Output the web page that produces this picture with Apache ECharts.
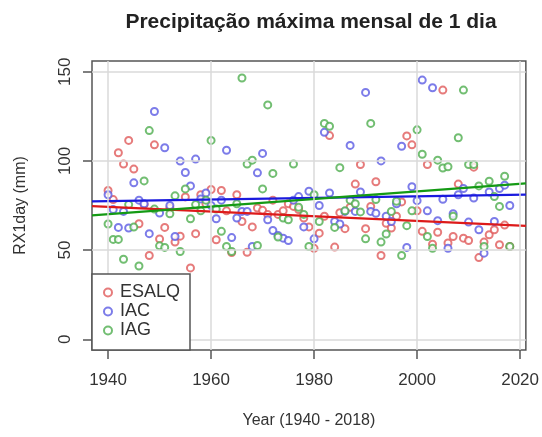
<!DOCTYPE html>
<html>
<head>
<meta charset="utf-8">
<script src="https://cdn.jsdelivr.net/npm/echarts@6/dist/echarts.min.js"></script>
<style>
  html, body { margin: 0; padding: 0; background: #fff; }
  #chart { width: 542px; height: 437px; }
</style>
</head>
<body>
<div id="chart"></div>
<script>
// valores, um por ano (1940 - 2018)
const firstYear = 1940
const esalq = [
  83.4, 78.3, 104.6, 98.2, 111.5, 95.4, 64.8, 75.5, 47, 109,
  56.2, 62.7, 73.6, 54.5, 57.8, 79.8, 40, 59.2, 81, 76,
  84, 55.8, 83.4, 72, 48.6, 81, 66, 48.8, 63, 73.6,
  72.3, 70, 78, 70, 72, 76, 74.5, 72.7, 68, 63,
  51, 59.5, 69, 114.2, 51.7, 71, 62, 74, 87, 98,
  62, 74.5, 88.3, 47, 65, 62.4, 69, 77, 114, 109,
  72, 60.5, 98, 53.3, 60, 139.7, 54, 57.6, 87, 56.7,
  55.4, 96.5, 45.8, 54.5, 58.6, 61.4, 53, 64, 52
]
const iac = [
  81, 72.7, 62.7, 71.7, 62.4, 87.7, 78, 76, 59.2, 127.7,
  70.8, 107.4, 75, 57.6, 99.9, 93.5, 86, 101, 78.7, 82,
  75, 67.6, 78, 106, 57, 68, 71.7, 71.7, 52, 93.3,
  104.2, 67, 61, 58.2, 56.7, 55.4, 78, 80, 63, 83,
  56.3, 75, 116, 82, 66, 64.6, 71.7, 108.7, 71.7, 82.6,
  138.4, 71.7, 70.6, 100, 69, 66, 76, 108.2, 51.5, 85.5,
  77.7, 145.3, 72, 141, 66.5, 78.5, 51, 70.4, 81, 84.5,
  65.7, 79.2, 61.4, 48.3, 82.6, 66, 84.5, 86.4, 75
]
const iag = [
  64.6, 56, 56, 44.9, 75.5, 62.9, 41.1, 88.8, 117, 73,
  52.4, 51.5, 70.4, 80.4, 49.2, 84.3, 67.6, 75.5, 72, 78,
  111.5, 73, 60.5, 52, 49.2, 76, 146.5, 98.2, 100.4, 52.6,
  84.3, 131.4, 93, 57.3, 68, 67, 98.2, 74, 70, 52,
  81, 66, 121, 119.4, 62.7, 96.2, 72, 78, 76, 71.4,
  56.3, 121, 78.3, 54.5, 59, 71.7, 77.4, 47, 63.7, 72,
  117.4, 103.7, 57.6, 51, 100.4, 96, 96.7, 69, 113, 139.7,
  98, 98, 86, 52, 88.6, 80, 74.5, 91.4, 52
]

// retas de tendência (valor nas bordas do gráfico)
const trendX = [1936.88, 2021.12]
const esalqTrend = [74.6, 63.6]
const iacTrend = [77.3, 81.1]
const iagTrend = [69.5, 87.4]

const xTicks = [1940, 1960, 1980, 2000, 2020]
const yTicks = [0, 50, 100, 150]

const names = ['ESALQ', 'IAC', 'IAG']
const pointColors = ['#e05a5a', '#5b5be3', '#4fae4f']
const lineColors = ['#dd1a1a', '#1a1ade', '#149a14']

const font = 'Liberation Sans, Arial, sans-serif'
const chart = echarts.init(document.getElementById('chart'))

function pts (vals) {
  return vals.map((v, i) => [firstYear + i, v])
}

function scatter (i, vals) {
  return {
    name: names[i],
    type: 'scatter',
    z: 2,
    symbol: 'emptyCircle',
    symbolSize: 7,
    itemStyle: { color: pointColors[i], borderColor: pointColors[i], borderWidth: 1.3 },
    data: pts(vals)
  }
}

function trend (i, ends) {
  return {
    type: 'line',
    z: 3,
    symbol: 'none',
    silent: true,
    lineStyle: { color: lineColors[i], width: 2.2 },
    data: trendX.map((x, k) => [x, ends[k]])
  }
}

const option = {
  backgroundColor: '#fff',
  animation: false,
  title: {
    text: 'Precipitação máxima mensal de 1 dia',
    left: 306,
    top: 7,
    textAlign: 'center',
    textStyle: { fontFamily: font, fontSize: 21, fontWeight: 'bold', color: '#222' }
  },
  grid: {
    left: 92, right: 15, top: 61, bottom: 87,
    show: true, borderColor: '#555', borderWidth: 1.5, backgroundColor: 'transparent'
  },
  legend: {
    data: names,
    orient: 'vertical',
    left: 103,
    top: 283,
    z: 20,
    padding: 0,
    itemGap: 0,
    itemWidth: 14,
    itemHeight: 8,
    textStyle: { fontFamily: font, fontSize: 18, color: '#333', lineHeight: 19 }
  },
  graphic: [{
    type: 'rect',
    z: 10,
    shape: { x: 92, y: 274, width: 98, height: 76 },
    style: { fill: '#fff', stroke: '#555', lineWidth: 1.5 }
  }],
  xAxis: {
    type: 'value',
    min: trendX[0],
    max: trendX[1],
    name: 'Year (1940 - 2018)',
    nameLocation: 'middle',
    nameGap: 63,
    nameTextStyle: { fontFamily: font, fontSize: 16, color: '#333' },
    axisLine: { show: false, onZero: false },
    axisTick: { show: true, length: 9, customValues: xTicks, lineStyle: { color: '#555', width: 1.5 } },
    axisLabel: {
      customValues: xTicks, margin: 22, fontFamily: font, fontSize: 17, color: '#333',
      formatter: v => String(v)
    },
    splitLine: { show: false }
  },
  yAxis: {
    type: 'value',
    min: -6,
    max: 156,
    name: 'RX1day (mm)',
    nameLocation: 'middle',
    nameGap: 63,
    nameTextStyle: { fontFamily: font, fontSize: 16, color: '#333' },
    axisLine: { show: false, onZero: false },
    axisTick: { show: true, length: 9, customValues: yTicks, lineStyle: { color: '#555', width: 1.5 } },
    axisLabel: { customValues: yTicks, rotate: 90, margin: 18, fontFamily: font, fontSize: 17, color: '#333' },
    splitLine: { show: false }
  },
  series: [
    {
      // grade clara nas marcas dos eixos
      type: 'line',
      z: 1,
      silent: true,
      data: [],
      markLine: {
        silent: true,
        symbol: ['none', 'none'],
        label: { show: false },
        lineStyle: { color: '#dadada', type: 'solid', width: 1.5 },
        data: xTicks.map(v => ({ xAxis: v })).concat(yTicks.map(v => ({ yAxis: v })))
      }
    },
    scatter(0, esalq),
    scatter(1, iac),
    scatter(2, iag),
    trend(0, esalqTrend),
    trend(1, iacTrend),
    trend(2, iagTrend)
  ]
}

chart.setOption(option)
</script>
</body>
</html>
